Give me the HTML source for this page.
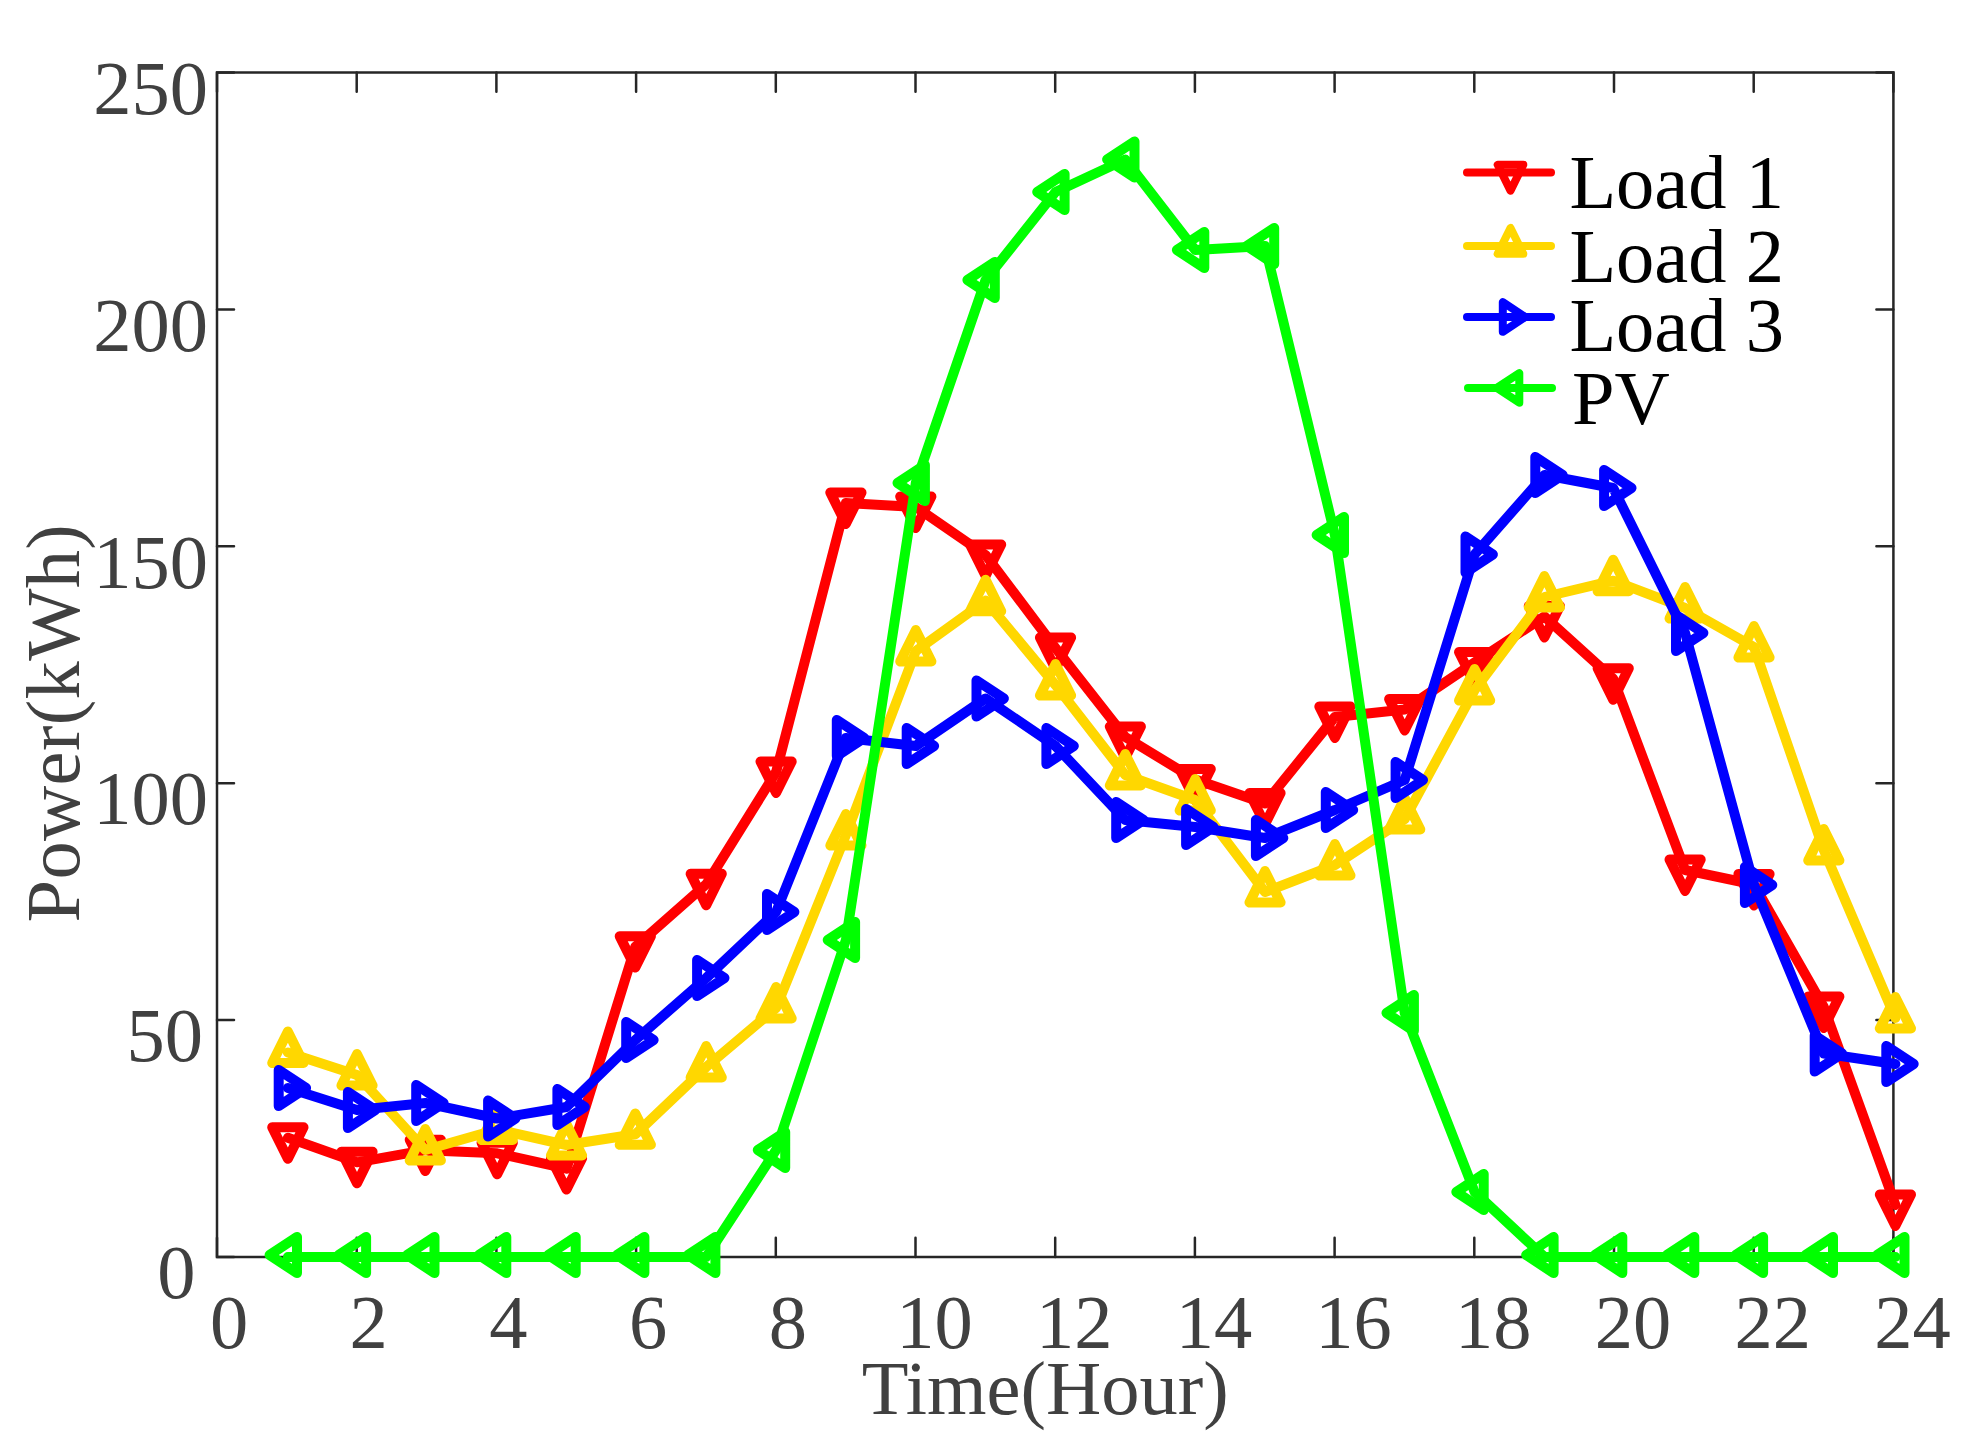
<!DOCTYPE html>
<html lang="en"><head><meta charset="utf-8"><title>Power vs Time</title>
<style>html,body{margin:0;padding:0;background:#fff}svg{display:block}text{font-family:"Liberation Serif","Times New Roman",serif}</style></head><body>
<svg width="1980" height="1456" viewBox="0 0 1980 1456">
<rect width="1980" height="1456" fill="#fff"/>
<g stroke="#262626" stroke-width="2.5" fill="none" stroke-linecap="butt">
<rect x="217.0" y="72.5" width="1676.4" height="1184.5"/>
<path stroke-linecap="round" d="M217.0 1257.0V1237.8M217.0 72.5V91.7M356.7 1257.0V1237.8M356.7 72.5V91.7M496.4 1257.0V1237.8M496.4 72.5V91.7M636.1 1257.0V1237.8M636.1 72.5V91.7M775.8 1257.0V1237.8M775.8 72.5V91.7M915.5 1257.0V1237.8M915.5 72.5V91.7M1055.2 1257.0V1237.8M1055.2 72.5V91.7M1194.9 1257.0V1237.8M1194.9 72.5V91.7M1334.6 1257.0V1237.8M1334.6 72.5V91.7M1474.3 1257.0V1237.8M1474.3 72.5V91.7M1614.0 1257.0V1237.8M1614.0 72.5V91.7M1753.7 1257.0V1237.8M1753.7 72.5V91.7M1893.4 1257.0V1237.8M1893.4 72.5V91.7M217.0 1257.0H234.0M1893.4 1257.0H1876.4M217.0 1020.1H234.0M1893.4 1020.1H1876.4M217.0 783.2H234.0M1893.4 783.2H1876.4M217.0 546.3H234.0M1893.4 546.3H1876.4M217.0 309.4H234.0M1893.4 309.4H1876.4M217.0 72.5H234.0M1893.4 72.5H1876.4"/>
</g>
<g fill="#404040" font-size="76.5">
<text x="195.5" y="1298.2" text-anchor="end">0</text>
<text x="203.0" y="1061.3" text-anchor="end">50</text>
<text x="208.0" y="824.4" text-anchor="end">100</text>
<text x="208.0" y="587.5" text-anchor="end">150</text>
<text x="208.0" y="350.6" text-anchor="end">200</text>
<text x="208.0" y="113.7" text-anchor="end">250</text>
<text x="229.0" y="1347.7" text-anchor="middle">0</text>
<text x="368.7" y="1347.7" text-anchor="middle">2</text>
<text x="508.4" y="1347.7" text-anchor="middle">4</text>
<text x="648.1" y="1347.7" text-anchor="middle">6</text>
<text x="787.8" y="1347.7" text-anchor="middle">8</text>
<text x="934.5" y="1347.7" text-anchor="middle">10</text>
<text x="1074.2" y="1347.7" text-anchor="middle">12</text>
<text x="1213.9" y="1347.7" text-anchor="middle">14</text>
<text x="1353.6" y="1347.7" text-anchor="middle">16</text>
<text x="1493.3" y="1347.7" text-anchor="middle">18</text>
<text x="1633.0" y="1347.7" text-anchor="middle">20</text>
<text x="1772.7" y="1347.7" text-anchor="middle">22</text>
<text x="1912.4" y="1347.7" text-anchor="middle">24</text>
<text x="1045.2" y="1414.4" text-anchor="middle">Time(Hour)</text>
<text transform="translate(78.5,723.2) rotate(-90)" text-anchor="middle" letter-spacing="0.35">Power(kWh)</text>
</g>
<g stroke="#FF0000" stroke-width="10" fill="none" stroke-linejoin="round" stroke-linecap="round">
<polyline points="287.9,1137.8 357.0,1162.3 425.3,1150.2 497.2,1153.3 566.5,1168.7 635.3,946.7 706.2,884.3 776.1,772.0 845.9,503.0 915.8,507.0 985.6,555.0 1055.5,648.0 1125.3,737.0 1195.2,779.5 1265.0,803.5 1334.9,717.0 1404.7,709.5 1474.6,662.5 1544.4,616.5 1613.2,678.8 1685.1,870.0 1754.0,884.5 1823.8,1007.0 1895.4,1205.0"/>
<polygon points="272.2,1127.3 303.5,1127.3 287.9,1158.7"/>
<polygon points="341.4,1151.8 372.6,1151.8 357.0,1183.2"/>
<polygon points="409.7,1139.7 440.9,1139.7 425.3,1171.1"/>
<polygon points="481.6,1142.8 512.8,1142.8 497.2,1174.2"/>
<polygon points="550.9,1158.2 582.1,1158.2 566.5,1189.6"/>
<polygon points="619.7,936.2 650.9,936.2 635.3,967.6"/>
<polygon points="690.6,873.8 721.8,873.8 706.2,905.2"/>
<polygon points="760.5,761.5 791.7,761.5 776.1,792.9"/>
<polygon points="830.3,492.5 861.5,492.5 845.9,523.9"/>
<polygon points="900.2,496.5 931.4,496.5 915.8,527.9"/>
<polygon points="970.0,544.5 1001.2,544.5 985.6,575.9"/>
<polygon points="1039.9,637.5 1071.1,637.5 1055.5,668.9"/>
<polygon points="1109.8,726.5 1140.9,726.5 1125.3,757.9"/>
<polygon points="1179.6,769.0 1210.8,769.0 1195.2,800.4"/>
<polygon points="1249.5,793.0 1280.6,793.0 1265.0,824.4"/>
<polygon points="1319.3,706.5 1350.5,706.5 1334.9,737.9"/>
<polygon points="1389.1,699.0 1420.3,699.0 1404.7,730.4"/>
<polygon points="1459.0,652.0 1490.2,652.0 1474.6,683.4"/>
<polygon points="1528.8,606.0 1560.0,606.0 1544.4,637.4"/>
<polygon points="1597.6,668.3 1628.8,668.3 1613.2,699.7"/>
<polygon points="1669.5,859.5 1700.7,859.5 1685.1,890.9"/>
<polygon points="1738.4,874.0 1769.6,874.0 1754.0,905.4"/>
<polygon points="1808.2,996.5 1839.4,996.5 1823.8,1027.9"/>
<polygon points="1879.8,1194.5 1911.0,1194.5 1895.4,1225.9"/>
</g>
<g stroke="#FFD700" stroke-width="10" fill="none" stroke-linejoin="round" stroke-linecap="round">
<polyline points="287.9,1052.5 357.0,1075.0 425.3,1150.0 497.2,1129.5 566.5,1145.0 635.3,1134.3 706.2,1067.0 776.1,1008.0 845.9,835.0 915.8,651.0 985.6,600.7 1055.5,685.0 1125.3,775.0 1195.2,800.0 1265.0,892.0 1334.9,865.0 1404.7,819.0 1474.6,690.0 1544.4,597.0 1613.2,580.7 1685.1,608.0 1754.0,647.0 1823.8,850.0 1895.4,1018.0"/>
<polygon points="272.2,1063.0 303.5,1063.0 287.9,1031.6"/>
<polygon points="341.4,1085.5 372.6,1085.5 357.0,1054.1"/>
<polygon points="409.7,1160.5 440.9,1160.5 425.3,1129.1"/>
<polygon points="481.6,1140.0 512.8,1140.0 497.2,1108.6"/>
<polygon points="550.9,1155.5 582.1,1155.5 566.5,1124.1"/>
<polygon points="619.7,1144.8 650.9,1144.8 635.3,1113.4"/>
<polygon points="690.6,1077.5 721.8,1077.5 706.2,1046.1"/>
<polygon points="760.5,1018.5 791.7,1018.5 776.1,987.1"/>
<polygon points="830.3,845.5 861.5,845.5 845.9,814.1"/>
<polygon points="900.2,661.5 931.4,661.5 915.8,630.1"/>
<polygon points="970.0,611.2 1001.2,611.2 985.6,579.8"/>
<polygon points="1039.9,695.5 1071.1,695.5 1055.5,664.1"/>
<polygon points="1109.8,785.5 1140.9,785.5 1125.3,754.1"/>
<polygon points="1179.6,810.5 1210.8,810.5 1195.2,779.1"/>
<polygon points="1249.5,902.5 1280.6,902.5 1265.0,871.1"/>
<polygon points="1319.3,875.5 1350.5,875.5 1334.9,844.1"/>
<polygon points="1389.1,829.5 1420.3,829.5 1404.7,798.1"/>
<polygon points="1459.0,700.5 1490.2,700.5 1474.6,669.1"/>
<polygon points="1528.8,607.5 1560.0,607.5 1544.4,576.1"/>
<polygon points="1597.6,591.2 1628.8,591.2 1613.2,559.8"/>
<polygon points="1669.5,618.5 1700.7,618.5 1685.1,587.1"/>
<polygon points="1738.4,657.5 1769.6,657.5 1754.0,626.1"/>
<polygon points="1808.2,860.5 1839.4,860.5 1823.8,829.1"/>
<polygon points="1879.8,1028.5 1911.0,1028.5 1895.4,997.1"/>
</g>
<g stroke="#0000FF" stroke-width="10" fill="none" stroke-linejoin="round" stroke-linecap="round">
<polyline points="287.9,1088.0 357.0,1110.0 425.3,1103.0 497.2,1118.5 566.5,1107.0 635.3,1040.0 706.2,978.0 776.1,912.0 845.9,738.0 915.8,746.0 985.6,698.5 1055.5,746.0 1125.3,820.0 1195.2,827.0 1265.0,838.0 1334.9,810.0 1404.7,780.0 1474.6,554.5 1544.4,475.0 1613.2,488.0 1685.1,633.0 1754.0,885.0 1823.8,1053.5 1895.4,1064.0"/>
<polygon points="278.7,1069.9 278.7,1106.1 306.1,1088.0"/>
<polygon points="347.9,1091.9 347.9,1128.1 375.3,1110.0"/>
<polygon points="416.2,1084.9 416.2,1121.1 443.6,1103.0"/>
<polygon points="488.1,1100.4 488.1,1136.6 515.5,1118.5"/>
<polygon points="557.4,1088.9 557.4,1125.1 584.8,1107.0"/>
<polygon points="626.2,1021.9 626.2,1058.1 653.6,1040.0"/>
<polygon points="697.1,959.9 697.1,996.1 724.5,978.0"/>
<polygon points="767.0,893.9 767.0,930.1 794.4,912.0"/>
<polygon points="836.8,719.9 836.8,756.1 864.2,738.0"/>
<polygon points="906.7,727.9 906.7,764.1 934.1,746.0"/>
<polygon points="976.5,680.4 976.5,716.6 1003.9,698.5"/>
<polygon points="1046.4,727.9 1046.4,764.1 1073.8,746.0"/>
<polygon points="1116.2,801.9 1116.2,838.1 1143.6,820.0"/>
<polygon points="1186.1,808.9 1186.1,845.1 1213.5,827.0"/>
<polygon points="1255.9,819.9 1255.9,856.1 1283.3,838.0"/>
<polygon points="1325.8,791.9 1325.8,828.1 1353.2,810.0"/>
<polygon points="1395.6,761.9 1395.6,798.1 1423.0,780.0"/>
<polygon points="1465.5,536.4 1465.5,572.6 1492.9,554.5"/>
<polygon points="1535.3,456.9 1535.3,493.1 1562.7,475.0"/>
<polygon points="1604.1,469.9 1604.1,506.1 1631.5,488.0"/>
<polygon points="1676.0,614.9 1676.0,651.1 1703.4,633.0"/>
<polygon points="1744.9,866.9 1744.9,903.1 1772.3,885.0"/>
<polygon points="1814.7,1035.4 1814.7,1071.6 1842.1,1053.5"/>
<polygon points="1886.3,1045.9 1886.3,1082.1 1913.7,1064.0"/>
</g>
<g stroke="#00FF00" stroke-width="10" fill="none" stroke-linejoin="round" stroke-linecap="round">
<polyline points="287.9,1257.0 357.0,1257.0 425.3,1257.0 497.2,1257.0 566.5,1257.0 635.3,1257.0 706.2,1257.0 776.1,1150.0 845.9,940.0 915.8,483.0 985.6,280.0 1055.5,192.0 1125.3,159.5 1195.2,250.0 1265.0,246.0 1334.9,535.0 1404.7,1013.0 1474.6,1192.0 1544.4,1257.0 1613.2,1257.0 1685.1,1257.0 1754.0,1257.0 1823.8,1257.0 1895.4,1257.0"/>
<polygon points="297.0,1236.9 297.0,1273.1 269.6,1255.0"/>
<polygon points="366.1,1236.9 366.1,1273.1 338.7,1255.0"/>
<polygon points="434.5,1236.9 434.5,1273.1 407.1,1255.0"/>
<polygon points="506.3,1236.9 506.3,1273.1 478.9,1255.0"/>
<polygon points="575.7,1236.9 575.7,1273.1 548.3,1255.0"/>
<polygon points="644.4,1236.9 644.4,1273.1 617.0,1255.0"/>
<polygon points="715.4,1236.9 715.4,1273.1 688.0,1255.0"/>
<polygon points="785.2,1131.9 785.2,1168.1 757.8,1150.0"/>
<polygon points="855.1,921.9 855.1,958.1 827.7,940.0"/>
<polygon points="924.9,464.9 924.9,501.1 897.5,483.0"/>
<polygon points="994.8,261.9 994.8,298.1 967.4,280.0"/>
<polygon points="1064.6,173.9 1064.6,210.1 1037.2,192.0"/>
<polygon points="1134.5,141.4 1134.5,177.6 1107.1,159.5"/>
<polygon points="1204.3,231.9 1204.3,268.1 1176.9,250.0"/>
<polygon points="1274.2,227.9 1274.2,264.1 1246.8,246.0"/>
<polygon points="1344.0,516.9 1344.0,553.1 1316.6,535.0"/>
<polygon points="1413.9,994.9 1413.9,1031.1 1386.5,1013.0"/>
<polygon points="1483.7,1173.9 1483.7,1210.1 1456.3,1192.0"/>
<polygon points="1553.6,1236.9 1553.6,1273.1 1526.2,1255.0"/>
<polygon points="1622.3,1236.9 1622.3,1273.1 1594.9,1255.0"/>
<polygon points="1694.3,1236.9 1694.3,1273.1 1666.9,1255.0"/>
<polygon points="1763.1,1236.9 1763.1,1273.1 1735.7,1255.0"/>
<polygon points="1833.0,1236.9 1833.0,1273.1 1805.6,1255.0"/>
<polygon points="1904.5,1236.9 1904.5,1273.1 1877.1,1255.0"/>
</g>
<g stroke="#FF0000" stroke-width="8" fill="none" stroke-linejoin="round" stroke-linecap="round">
<path d="M1467.0 172.4H1551.0"/>
<polygon points="1497.7,164.8 1523.3,164.8 1510.5,190.6"/>
</g>
<text x="1569.4" y="208.0" font-size="76.5" fill="#000">Load 1</text>
<g stroke="#FFD700" stroke-width="8" fill="none" stroke-linejoin="round" stroke-linecap="round">
<path d="M1467.0 246.0H1551.0"/>
<polygon points="1497.7,253.8 1523.3,253.8 1510.5,228.0"/>
</g>
<text x="1569.4" y="281.6" font-size="76.5" fill="#000">Load 2</text>
<g stroke="#0000FF" stroke-width="8" fill="none" stroke-linejoin="round" stroke-linecap="round">
<path d="M1467.0 317.0H1551.0"/>
<polygon points="1502.8,302.2 1502.8,331.8 1525.3,317.0"/>
</g>
<text x="1569.4" y="350.9" font-size="76.5" fill="#000">Load 3</text>
<g stroke="#00FF00" stroke-width="8" fill="none" stroke-linejoin="round" stroke-linecap="round">
<path d="M1468.0 387.9H1552.0"/>
<polygon points="1519.3,373.1 1519.3,402.7 1496.8,387.9"/>
</g>
<text x="1571.9" y="424.0" font-size="76.5" fill="#000">PV</text>
</svg></body></html>
